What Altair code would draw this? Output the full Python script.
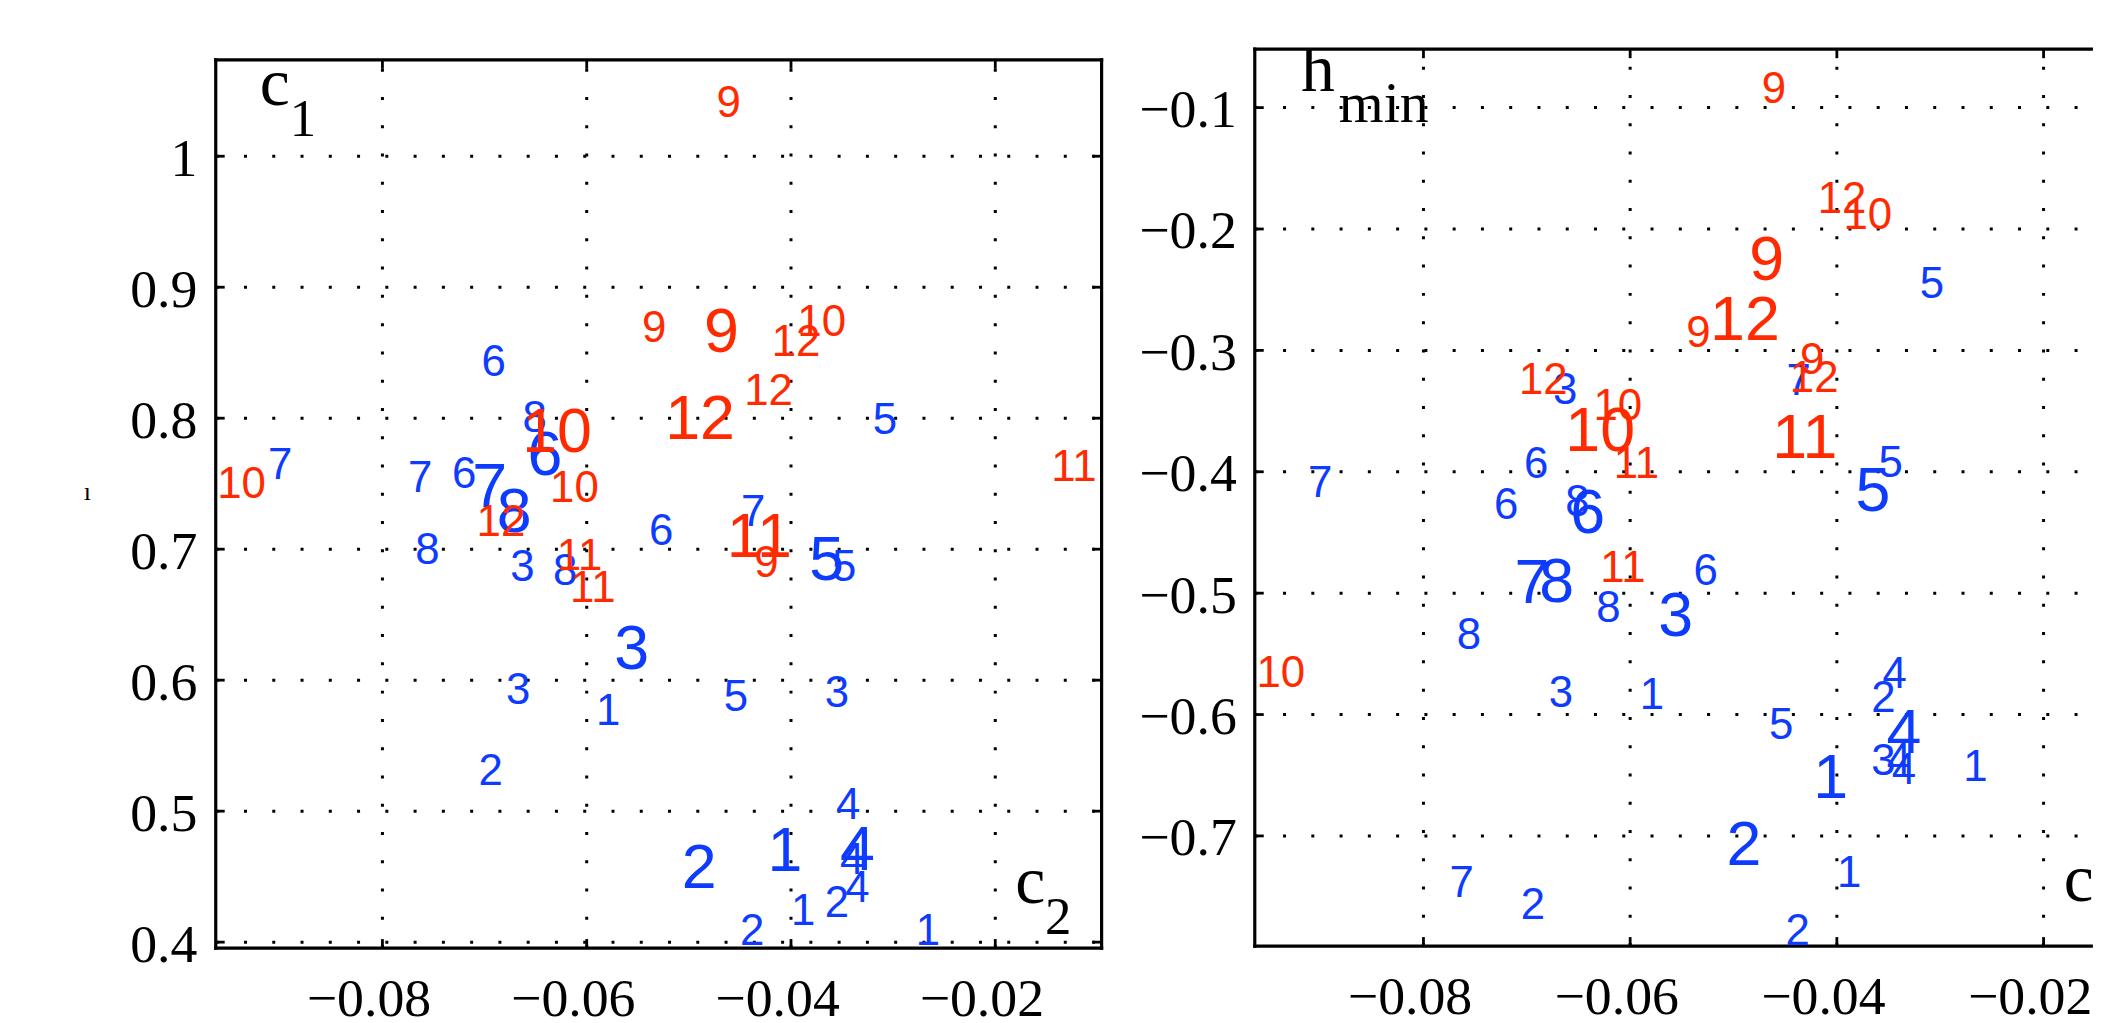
import altair as alt
import pandas as pd

# ---------------- data ----------------
MONTH = [1, 1, 1, 1, 2, 2, 2, 2, 3, 3, 3, 3, 4, 4, 4, 4,
         5, 5, 5, 5, 6, 6, 6, 6, 7, 7, 7, 7, 8, 8, 8, 8,
         9, 9, 9, 9, 10, 10, 10, 10, 11, 11, 11, 11, 12, 12, 12, 12]
KIND = ["S", "L", "S", "S", "S", "L", "S", "S", "S", "L", "S", "S", "S", "L", "S", "S",
        "S", "L", "S", "S", "S", "L", "S", "S", "S", "S", "L", "S", "S", "L", "S", "S",
        "S", "S", "L", "S", "S", "L", "S", "S", "S", "S", "L", "S", "S", "S", "S", "L"]
C2 = [-0.0579, -0.0406, -0.0388, -0.0266,
      -0.0694, -0.0490, -0.0355, -0.0438,
      -0.0663, -0.0556, -0.0667, -0.0355,
      -0.0344, -0.0335, -0.0340, -0.0335,
      -0.0308, -0.0365, -0.0348, -0.0454,
      -0.0691, -0.0641, -0.0720, -0.0527,
      -0.0900, -0.0763, -0.0695, -0.0437,
      -0.0651, -0.0671, -0.0756, -0.0621,
      -0.0461, -0.0534, -0.0468, -0.0424,
      -0.0938, -0.0629, -0.0612, -0.0370,
      -0.0607, -0.0594, -0.0431, -0.0123,
      -0.0684, -0.0395, -0.0422, -0.0489]
C1 = [0.578, 0.471, 0.425, 0.410,
      0.532, 0.458, 0.431, 0.410,
      0.688, 0.625, 0.594, 0.592,
      0.506, 0.472, 0.464, 0.443,
      0.800, 0.693, 0.688, 0.589,
      0.844, 0.773, 0.759, 0.715,
      0.766, 0.756, 0.749, 0.730,
      0.802, 0.730, 0.701, 0.685,
      1.042, 0.870, 0.867, 0.691,
      0.751, 0.791, 0.748, 0.875,
      0.696, 0.672, 0.711, 0.764,
      0.722, 0.860, 0.822, 0.801]
HMIN = [-0.582, -0.651, -0.729, -0.642,
        -0.755, -0.706, -0.585, -0.777,
        -0.331, -0.517, -0.581, -0.637,
        -0.565, -0.614, -0.636, -0.644,
        -0.244, -0.414, -0.391, -0.607,
        -0.392, -0.432, -0.426, -0.480,
        -0.408, -0.737, -0.490, -0.324,
        -0.423, -0.489, -0.533, -0.511,
        -0.083, -0.284, -0.224, -0.306,
        -0.564, -0.365, -0.344, -0.187,
        -0.478, -0.392, -0.371, -0.350,
        -0.323, -0.174, -0.321, -0.273]

X_TICKS = [-0.08, -0.06, -0.04, -0.02]
Y_TICKS_L = [0.4, 0.5, 0.6, 0.7, 0.8, 0.9, 1.0]
Y_TICKS_R = [-0.7, -0.6, -0.5, -0.4, -0.3, -0.2, -0.1]

# axis limits (frame) and visible view ranges
XLIM = [-0.09632, -0.00959]
YLIM_L = [0.3955, 1.0736]
YVIEW_L = [0.3955, 1.0817]
XVIEW_R = [-0.09628, -0.01538]
YLIM_R = [-0.7907, -0.0519]

BLUE = "#0d3cff"
RED = "#ff2a00"
SERIF = "Liberation Serif"
SANS = "Liberation Sans"

W_L, H_L = 890, 903
W_R, H_R = 840, 901

df = pd.DataFrame({"month": MONTH, "kind": KIND, "c2": C2, "c1": C1, "hmin": HMIN})
df["label"] = df["month"].astype(str)
df["season"] = ["late" if m >= 9 else "early" for m in MONTH]


def xaxis():
    return alt.Axis(values=X_TICKS, format=".2f", title=None, labelFont=SERIF,
                    labelFontSize=54, labelColor="black", labelPadding=25,
                    labelOffset=-14, ticks=False, domain=False, grid=False,
                    labelOverlap=False)


def yaxis(vals, **kw):
    return alt.Axis(values=vals, format=".1~f", title=None, labelFont=SERIF, labelFontSize=54,
                    labelColor="black", labelPadding=19, labelOffset=3,
                    ticks=False, domain=False, grid=False, labelOverlap=False, **kw)


def panel(yfield, xview, xlim, yview, ylim, yticks, width, height, yax, right_edge=True):
    xs = alt.Scale(domain=xview, nice=False, zero=False)
    ys = alt.Scale(domain=yview, nice=False, zero=False)
    xax = xaxis()
    xmax = xlim[1] if right_edge else xview[1]

    def X(field):
        return alt.X(field, scale=xs, axis=xax)

    def Y(field):
        return alt.Y(field, scale=ys, axis=yax)

    # grid lines (dotted) built from tick arrays
    vgrid = pd.DataFrame({"x": X_TICKS, "x2": X_TICKS,
                          "y": [ylim[0]] * len(X_TICKS), "y2": [ylim[1]] * len(X_TICKS)})
    hgrid = pd.DataFrame({"x": [xlim[0]] * len(yticks), "x2": [xmax] * len(yticks),
                          "y": yticks, "y2": yticks})
    grid = alt.Chart(pd.concat([vgrid, hgrid])).mark_rule(
        color="black", strokeWidth=3, strokeDash=[3, 25.4], clip=True
    ).encode(x=X("x:Q"), x2="x2:Q", y=Y("y:Q"), y2="y2:Q")

    # inward tick marks on the frame
    dx = 9.0 * (xview[1] - xview[0]) / width
    dy = 9.0 * (yview[1] - yview[0]) / height
    rows = []
    for t in X_TICKS:
        rows.append((t, t, ylim[0], ylim[0] + dy))
        rows.append((t, t, ylim[1], ylim[1] - dy))
    for t in yticks:
        rows.append((xlim[0], xlim[0] + dx, t, t))
        if right_edge:
            rows.append((xlim[1], xlim[1] - dx, t, t))
    tk = pd.DataFrame(rows, columns=["x", "x2", "y", "y2"])
    ticks = alt.Chart(tk).mark_rule(color="black", strokeWidth=2.8).encode(
        x=X("x:Q"), x2="x2:Q", y=Y("y:Q"), y2="y2:Q")

    # frame
    fr = [(xlim[0], xmax, ylim[0], ylim[0]),
          (xlim[0], xmax, ylim[1], ylim[1]),
          (xlim[0], xlim[0], ylim[0], ylim[1])]
    if right_edge:
        fr.append((xlim[1], xlim[1], ylim[0], ylim[1]))
    frame = alt.Chart(pd.DataFrame(fr, columns=["x", "x2", "y", "y2"])).mark_rule(
        color="black", strokeWidth=3.2, strokeCap="square").encode(
        x=X("x:Q"), x2="x2:Q", y=Y("y:Q"), y2="y2:Q")

    labels = alt.Chart(df).mark_text(font=SANS, align="center", baseline="middle",
                                     dy=3, clip=True).encode(
        x=X("c2:Q"),
        y=Y(f"{yfield}:Q"),
        text="label:N",
        color=alt.Color("season:N", scale=alt.Scale(domain=["early", "late"], range=[BLUE, RED]),
                        legend=None),
        size=alt.Size("kind:N", scale=alt.Scale(domain=["S", "L"], range=[44, 63]), legend=None),
    )
    return X, Y, [grid, ticks, frame, labels]


def annot(X, Y, x, y, main, sub, sub_dx, sub_size=53):
    d = pd.DataFrame({"x": [x], "y": [y], "m": [main], "s": [sub]})
    base = alt.Chart(d).encode(x=X("x:Q"), y=Y("y:Q"))
    m = base.mark_text(font=SERIF, fontSize=68, align="left", baseline="alphabetic",
                       color="black", clip=True).encode(text="m:N")
    s = base.mark_text(font=SERIF, fontSize=sub_size, align="left", baseline="alphabetic",
                       color="black", dx=sub_dx, dy=31, clip=True).encode(text="s:N")
    return [m, s]


# ---- left panel: c1 vs c2 ----
yax_l = yaxis(Y_TICKS_L, minExtent=150)
XL, YL, lay_l = panel("c1", XLIM, XLIM, YVIEW_L, YLIM_L, Y_TICKS_L, W_L, H_L, yax_l)
lay_l += annot(XL, YL, -0.0920, 1.039, "c", "1", 30)
lay_l += annot(XL, YL, -0.01805, 0.4297, "c", "2", 30)
# the small stray y-label mark left of the axis labels
ylab = alt.Chart(pd.DataFrame({"x": [-0.1089], "y": [0.7435], "t": ["ı"]})).mark_text(
    font=SERIF, fontSize=26, align="center", baseline="middle", color="black"
).encode(x=XL("x:Q"), y=YL("y:Q"), text="t:N")
lay_l.append(ylab)
left = alt.layer(*lay_l).properties(width=W_L, height=H_L)

# ---- right panel: hmin vs c2 ----
yax_r = yaxis(Y_TICKS_R, minExtent=118)
XR, YR, lay_r = panel("hmin", XVIEW_R, XLIM, YLIM_R, YLIM_R, Y_TICKS_R, W_R, H_R, yax_r,
                      right_edge=False)
lay_r += annot(XR, YR, -0.09185, -0.0863, "h", "min", 38, 58)
lay_r += annot(XR, YR, -0.01805, -0.7535, "c", "2", 30)
right = alt.layer(*lay_r).properties(width=W_R, height=H_R)

chart = alt.hconcat(left, right, spacing=154.3, bounds="flush").properties(
    padding={"left": 58.7, "top": 36, "right": 0, "bottom": 14},
    background="white",
).configure_view(strokeWidth=0)

chart.save("out.html", embed_options={"renderer": "svg", "actions": False})
